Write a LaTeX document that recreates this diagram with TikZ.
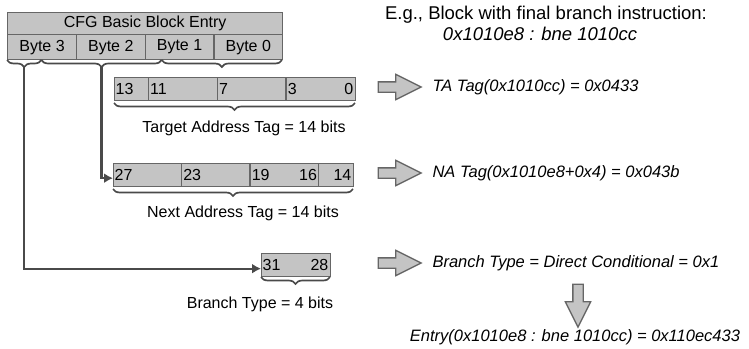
\documentclass[tikz,border=0pt]{standalone}
\usepackage{fontspec}
\setmainfont{Liberation Sans}
\usetikzlibrary{decorations.pathreplacing,shapes.arrows,arrows.meta,positioning}
\definecolor{cellgray}{HTML}{C4C4C4}
\definecolor{edgegray}{HTML}{666666}
\definecolor{wiregray}{HTML}{4A4A4A}
\tikzset{
  field/.style={draw=edgegray,fill=cellgray,line width=1.3pt,inner sep=0pt,anchor=north west,
    minimum height=23pt,font=\fontsize{16}{18}\selectfont},
  bitno/.style={inner sep=1.5pt,font=\fontsize{16}{18}\selectfont},
  lbl/.style={font=\fontsize{16}{18}\selectfont},
  note/.style={anchor=west,font=\fontsize{16.5}{19}\selectfont\itshape},
  ubrace/.style={decorate,decoration={brace,mirror,amplitude=7pt},draw=wiregray,line width=1.7pt},
  conn/.style={draw=wiregray,line width=2.2pt,-{Latex[length=9pt,width=10pt]}},
  fat/.style={single arrow,draw=edgegray,fill=cellgray,line width=1.3pt,inner sep=4.5pt,
    minimum height=43pt,minimum width=24pt,single arrow head extend=7.5pt,single arrow tip angle=53}
}
\begin{document}
\begin{tikzpicture}[x=1pt,y=-1pt]
  \useasboundingbox (0,0) rectangle (749,348);
  % entry word
  \node[field,minimum width=275pt,minimum height=22pt] (cfg) at (7,12) {CFG Basic Block Entry};
  \foreach \i/\b in {0/3,1/2,2/1,3/0}
    \node[field,minimum width=68.75pt,minimum height=25pt] (byte\b) at (7+\i*68.75,34) {Byte \b};
  \draw[ubrace] (7,60) -- (41.4,60); \draw[ubrace] (41.4,60) -- (161.7,60);
  \draw[ubrace] (161.7,60) -- (282,60);
  \coordinate (tipbt) at (24.2,67); \coordinate (tipna) at (101.5,67);

  % target address tag
  \node[field,minimum width=241pt] (ta) at (114,77) {};
  \foreach \x in {148.4,217.3,286.1} \draw[edgegray,line width=1.3pt] (\x,77) -- (\x,100);
  \node[bitno,anchor=west] (ta13) at (114,88.5) {13}; \node[bitno,anchor=west] (ta11) at (148.4,88.5) {11};
  \node[bitno,anchor=west] (ta7) at (217.3,88.5) {7}; \node[bitno,anchor=west] (ta3) at (286.1,88.5) {3};
  \node[bitno,anchor=east] (ta0) at (355,88.5) {0};
  \draw[ubrace] (114,103) -- (355,103);
  \node[lbl] (talbl) at (244,128) {Target Address Tag = 14 bits};

  % next address tag
  \node[field,minimum width=240pt] (na) at (113,163) {};
  \foreach \x in {181.6,250.1,318.7} \draw[edgegray,line width=1.3pt] (\x,163) -- (\x,186);
  \node[bitno,anchor=west] (na27) at (113,174.5) {27}; \node[bitno,anchor=west] (na23) at (181.6,174.5) {23};
  \node[bitno,anchor=west] (na19) at (250.1,174.5) {19}; \node[bitno,anchor=east] (na16) at (318.7,174.5) {16};
  \node[bitno,anchor=east] (na14) at (353,174.5) {14};
  \draw[ubrace] (113,189) -- (353,189);
  \node[lbl] (nalbl) at (243,213) {Next Address Tag = 14 bits};

  % branch type
  \node[field,minimum width=69pt] (bt) at (261,253) {};
  \node[bitno,anchor=west] (bt31) at (261,264.5) {31}; \node[bitno,anchor=east] (bt28) at (330,264.5) {28};
  \draw[ubrace] (261,277) -- (330,277);
  \node[lbl] (btlbl) at (260,304) {Branch Type = 4 bits};

  \draw[conn] (tipna) |- ([yshift=-3pt]na.west);
  \draw[conn] (tipbt) |- ([yshift=-3.5pt]bt.west);

  % example
  \node[font=\fontsize{18.5}{21}\selectfont] (eg) at (546,15) {E.g., Block with final branch instruction:};
  \node[font=\fontsize{18.5}{21}\selectfont\itshape] (instr) at (540,34) {0x1010e8 : bne 1010cc};
  \node[fat] (fa1) at (394.5,87) {}; \node[note] (tanote) at (429,87) {TA Tag(0x1010cc) = 0x0433};
  \node[fat] (fa2) at (394.5,173) {}; \node[note] (nanote) at (429,173) {NA Tag(0x1010e8+0x4) = 0x043b};
  \node[fat] (fa3) at (394.5,263) {}; \node[note] (btnote) at (429,263) {Branch Type = Direct Conditional = 0x1};
  \node[fat,rotate=-90] (fa4) at (578,300.5) {};
  \node[note,anchor=center] (entry) at (575,337) {Entry(0x1010e8 : bne 1010cc) = 0x110ec433};
\end{tikzpicture}
\end{document}
